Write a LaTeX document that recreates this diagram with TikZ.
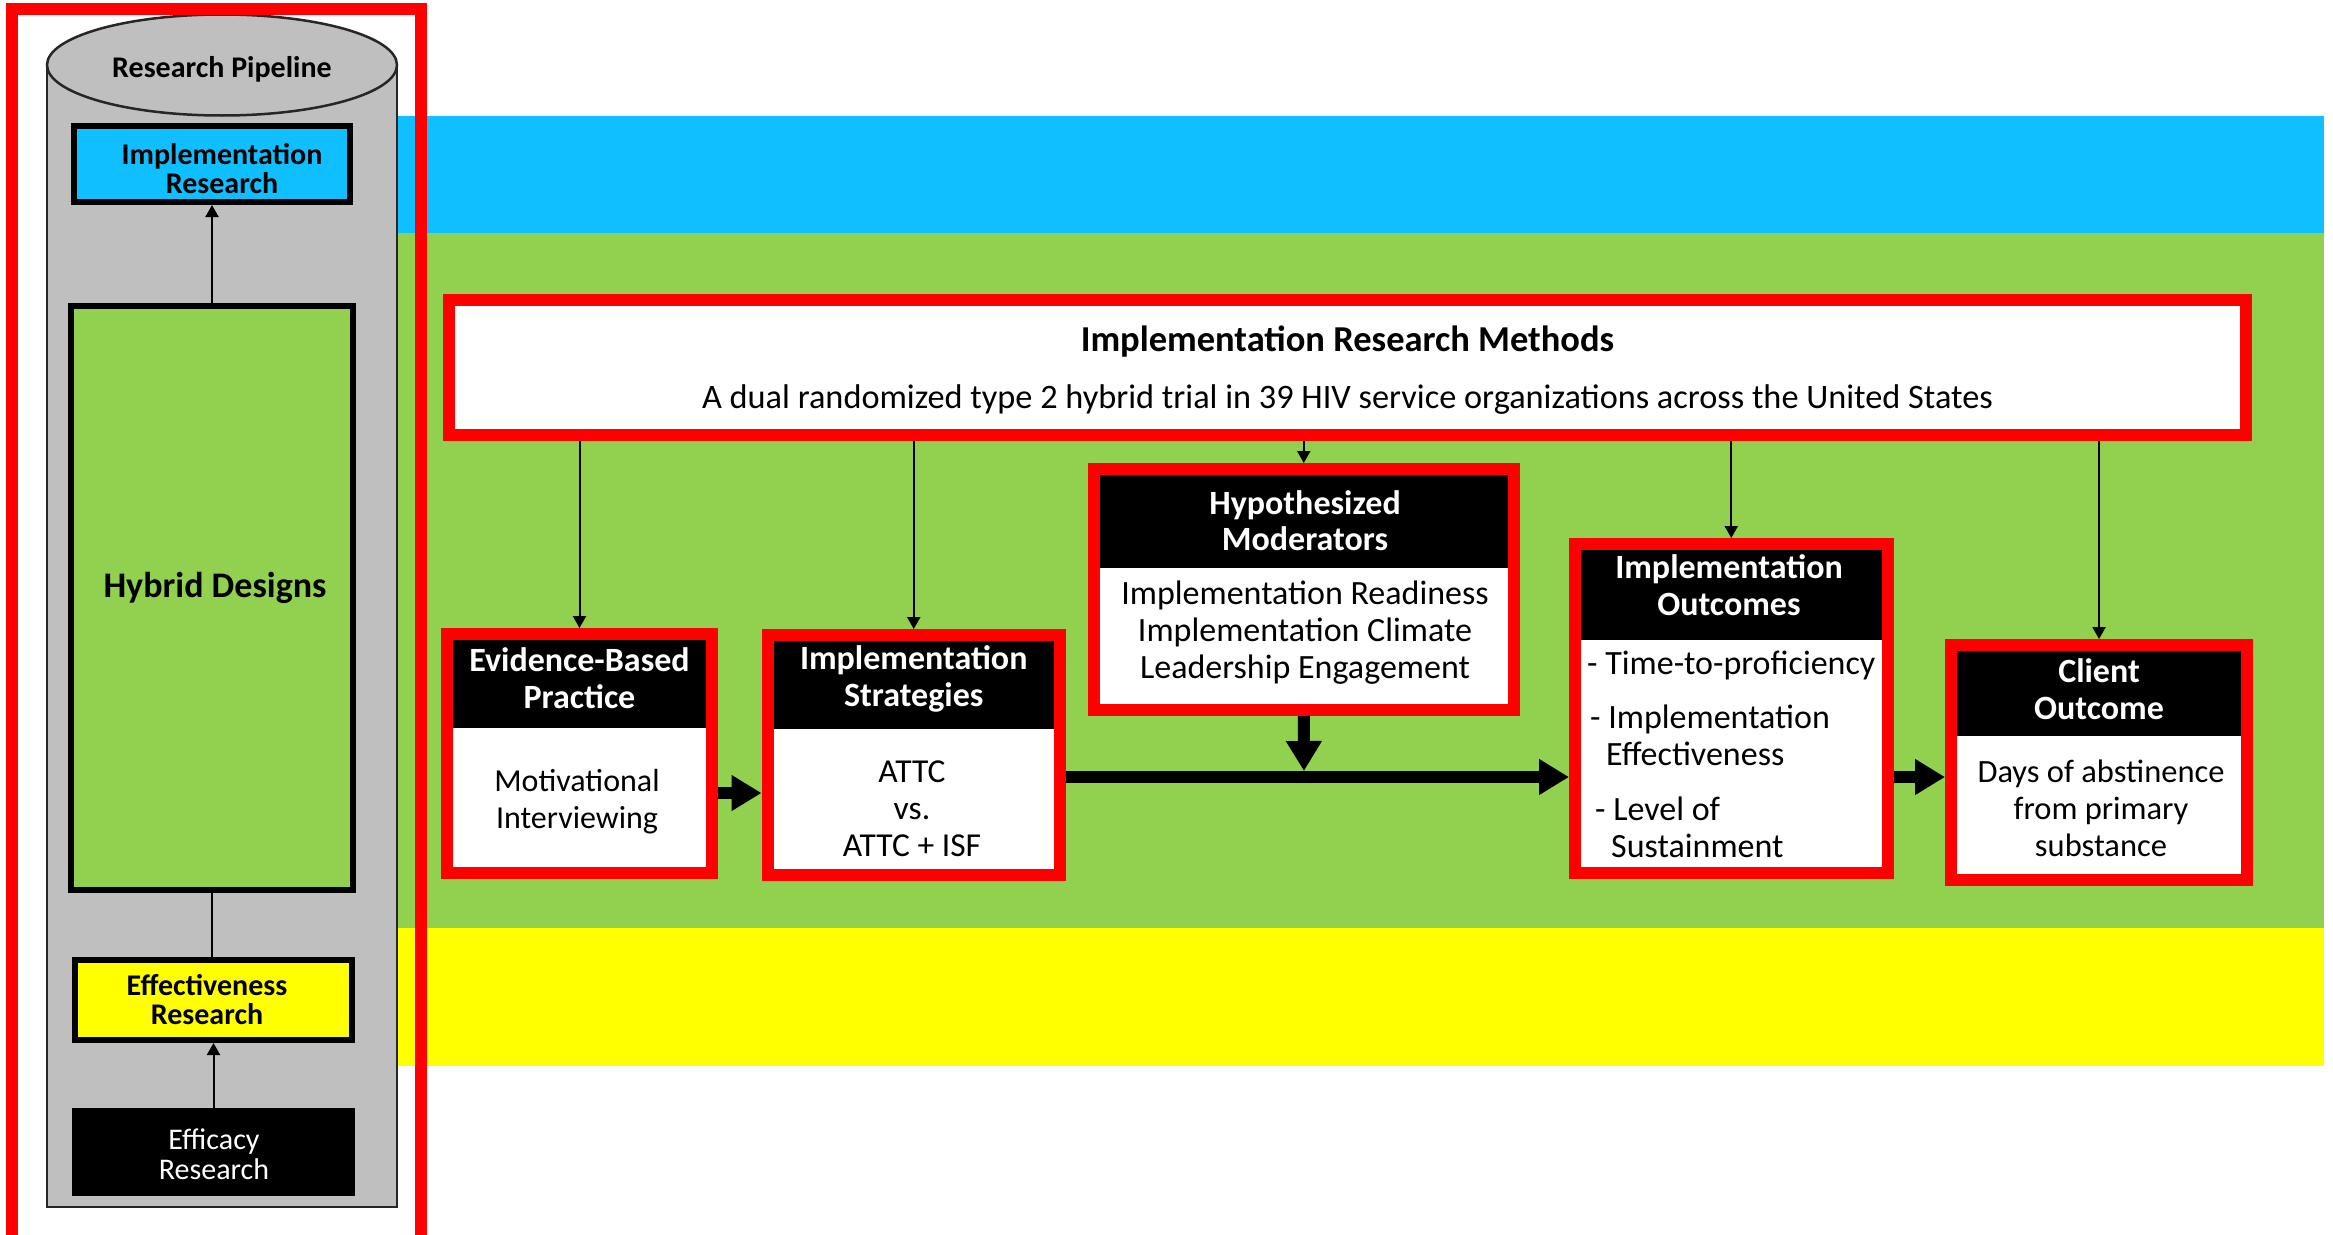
\documentclass[tikz,border=0pt]{standalone}
\usepackage{fontspec}
\setmainfont{Carlito}
\usetikzlibrary{arrows.meta}
\definecolor{bandblue}{HTML}{10BFFF}
\definecolor{bandgreen}{HTML}{92D050}
\definecolor{bandyellow}{HTML}{FFFF00}
\definecolor{pipegray}{HTML}{BFBFBF}
\definecolor{framered}{HTML}{FF0000}
\newcommand{\pipefont}{\fontsize{30}{29}\selectfont\bfseries}
\newcommand{\pipefontreg}{\fontsize{30}{30}\selectfont}
\newcommand{\headfont}{\fontsize{34}{36.5}\selectfont\bfseries}
\newcommand{\bodyfont}{\fontsize{33.5}{37}\selectfont}
\begin{document}
\begin{tikzpicture}[x=1pt,y=-1pt,
  redbox/.style={draw=framered, line width=12pt, fill=white, inner sep=0pt},
  headbox/.style={fill=black, inner sep=0pt},
  headtext/.style={inner sep=0pt, text=white, font=\headfont, align=center},
  bodytext/.style={inner sep=0pt, font=\bodyfont, align=center},
  pipebox/.style={draw=black, line width=6pt, inner sep=0pt},
  thinarrow/.style={draw=black, line width=2pt, -{Triangle[width=13pt,length=12pt]}},
  bigarrow/.style={draw=black, line width=12pt, -{Triangle[width=34pt,length=30pt]}}
]
\useasboundingbox (0,0) rectangle (2333,1234);
\clip (0,0) rectangle (2333,1234);
\fill[white] (0,0) rectangle (2333,1234);

% coloured bands behind the study flow
\fill[bandblue]   (397,116) rectangle (2324,233);
\fill[bandgreen]  (397,233) rectangle (2324,928);
\fill[bandyellow] (397,928) rectangle (2324,1066);

% research pipeline cylinder
\fill[pipegray] (47,65) rectangle (397,1207);
\draw[black!85, line width=2.5pt] (47,65) -- (47,1207) -- (397,1207) -- (397,65);
\draw[black!85, line width=2.5pt, fill=pipegray] (222,65) ellipse [x radius=175pt, y radius=50.5pt];
\node[inner sep=0pt, font=\pipefont] (pipe) at (222,69) {Research Pipeline};

\node[pipebox, fill=bandblue, minimum width=276pt, minimum height=76pt] (impl) at (212,164) {};
\node[inner sep=0pt, font=\pipefont, align=center] (implt) at (222,169) {Implementation\\Research};

\node[pipebox, fill=bandgreen, minimum width=282pt, minimum height=584pt] (hyb) at (212,598) {};
\node[inner sep=0pt, font=\fontsize{36}{36}\selectfont\bfseries] (hybt) at (215,588) {Hybrid Designs};

\node[pipebox, fill=bandyellow, minimum width=277pt, minimum height=80pt] (eff) at (213.5,1000) {};
\node[inner sep=0pt, font=\pipefont, align=center] (efft) at (207,1000) {Effectiveness\\Research};

\node[fill=black, inner sep=0pt, minimum width=283pt, minimum height=88pt] (effi) at (213.5,1152) {};
\node[inner sep=0pt, text=white, font=\pipefontreg, align=center] (effit) at (214,1154) {Efficacy\\Research};

\draw[thinarrow] (hyb.north) -- (impl.south);
\draw[black, line width=2pt] (hyb.south) -- (hyb.south |- eff.north);
\draw[thinarrow] (effi.north) -- (effi.north |- eff.south);

% red frame around the pipeline
\draw[framered, line width=12pt] (12,1250) -- (12,9) -- (421,9) -- (421,1250);

% methods banner
\node[redbox, minimum width=1797pt, minimum height=135pt] (meth) at (1347.5,367.5) {};
\node[inner sep=0pt, font=\fontsize{36.5}{36}\selectfont\bfseries] (metht) at (1347.5,342) {Implementation Research Methods};
\node[inner sep=0pt, font=\fontsize{34.3}{37}\selectfont] (meths) at (1347.5,400) {A dual randomized type 2 hybrid trial in 39 HIV service organizations across the United States};

% evidence-based practice
\node[redbox, minimum width=265pt, minimum height=239pt] (ebp) at (579.5,753.5) {};
\node[headbox, minimum width=253pt, minimum height=88pt] (ebph) at (579.5,684) {};
\node[headtext] (ebpt) at (579.5,678) {Evidence-Based\\Practice};
\node[bodytext, font=\fontsize{32}{37}\selectfont] (ebpb) at (577,801.5) {Motivational\\Interviewing};

% implementation strategies
\node[redbox, minimum width=292.5pt, minimum height=240pt] (strat) at (913.75,755) {};
\node[headbox, minimum width=280.5pt, minimum height=88pt] (strath) at (913.75,685) {};
\node[headtext] (stratt) at (913.75,679) {Implementation\\Strategies};
\node[bodytext] (stratb) at (912,808.5) {ATTC\\vs.\\ATTC + ISF};

% hypothesized moderators
\node[redbox, minimum width=419.5pt, minimum height=241pt] (mod) at (1303.75,589.5) {};
\node[headbox, minimum width=407.5pt, minimum height=93pt] (modh) at (1303.75,521.5) {};
\node[headtext] (modt) at (1305,520.5) {Hypothesized\\Moderators};
\node[bodytext, font=\fontsize{34}{37}\selectfont] (modb) at (1305,633) {Implementation Readiness\\Implementation Climate\\Leadership Engagement};

% implementation outcomes
\node[redbox, minimum width=312.5pt, minimum height=329pt] (outc) at (1731.25,708.5) {};
\node[headbox, minimum width=300.5pt, minimum height=90pt] (outch) at (1731.25,595) {};
\node[headtext] (outct) at (1729,585) {Implementation\\Outcomes};
\node[bodytext, font=\fontsize{34}{37}\selectfont, anchor=west, align=left] (outc1) at (1587,665) {- Time-to-proficiency};
\node[bodytext, font=\fontsize{34}{37}\selectfont, anchor=west, align=left] (outc2) at (1590,735) {- Implementation\\\hspace*{16pt}Effectiveness};
\node[bodytext, font=\fontsize{34}{37}\selectfont, anchor=west, align=left] (outc3) at (1595,827) {- Level of\\\hspace*{16pt}Sustainment};

% client outcome
\node[redbox, minimum width=296pt, minimum height=235pt] (cli) at (2099,762.5) {};
\node[headbox, minimum width=284pt, minimum height=85pt] (clih) at (2099,693.5) {};
\node[headtext] (clit) at (2099,689) {Client\\Outcome};
\node[bodytext, font=\fontsize{32.5}{37}\selectfont] (clib) at (2101,808) {Days of abstinence\\from primary\\substance};

% connectors from the methods banner
\draw[thinarrow] (ebp.north |- meth.south) -- (ebp.north);
\draw[thinarrow] (strat.north |- meth.south) -- (strat.north);
\draw[thinarrow] (mod.north |- meth.south) -- (mod.north);
\draw[thinarrow] (outc.north |- meth.south) -- (outc.north);
\draw[thinarrow] (cli.north |- meth.south) -- (cli.north);

% main causal path
\coordinate (junc) at (1304,777);
\draw[bigarrow] ([yshift=-39.5pt]ebp.east) -- ([yshift=-39.5pt]ebp.east -| strat.west);
\draw[bigarrow] (strat.east |- junc) -- (outc.west |- junc);
\draw[bigarrow, shorten >=6pt] (mod.south) -- (junc);
\draw[bigarrow] (outc.east |- junc) -- (cli.west |- junc);
\end{tikzpicture}
\end{document}
